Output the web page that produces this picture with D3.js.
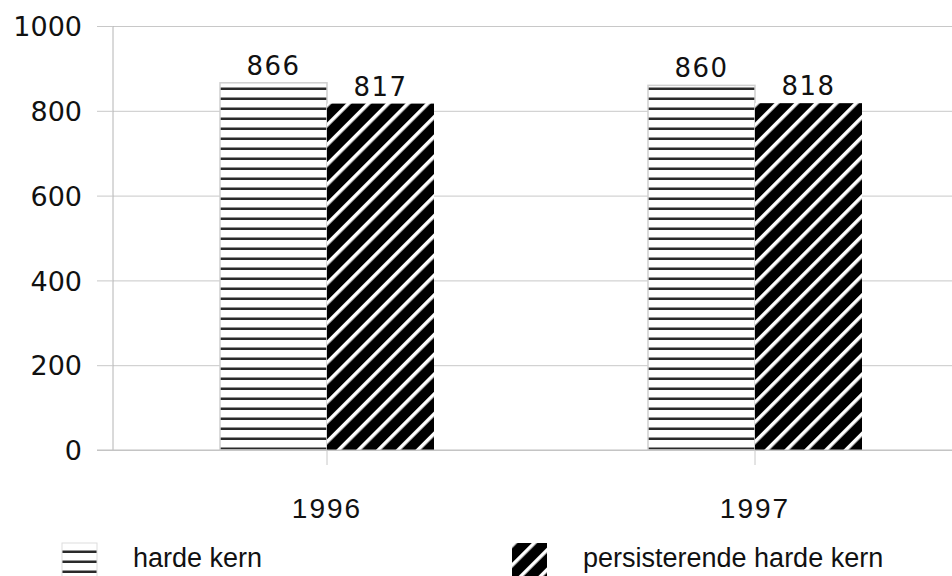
<!DOCTYPE html>
<html>
<head>
<meta charset="utf-8">
<script src="https://cdn.jsdelivr.net/npm/d3@7"></script>
<style>
  body { margin: 0; background: #fff; }
  .tick text { fill: #111; }
</style>
</head>
<body>
<script>
  var years = ["1996", "1997"];
  var series = ["harde kern", "persisterende harde kern"];
  var hardeKern = [866, 860];
  var persisterend = [817, 818];
  var yTicks = [0, 200, 400, 600, 800, 1000];

  var width = 952, height = 576;
  var plotLeft = 113, plotTop = 26, plotBottom = 450, plotRight = 969;

  var svg = d3.select("body").append("svg")
      .attr("width", width)
      .attr("height", height);

  var defs = svg.append("defs");

  // horizontal hatch
  var hp = defs.append("pattern")
      .attr("id", "horiz")
      .attr("patternUnits", "userSpaceOnUse")
      .attr("width", 10).attr("height", 10)
      .attr("y", 0);
  hp.append("rect").attr("width", 10).attr("height", 10).attr("fill", "#fff");
  hp.append("rect").attr("y", 7.5).attr("width", 10).attr("height", 2.5).attr("fill", "#2a2a2a");

  // diagonal hatch
  var dp = defs.append("pattern")
      .attr("id", "diag")
      .attr("patternUnits", "userSpaceOnUse")
      .attr("width", 14).attr("height", 14)
      .attr("patternTransform", "rotate(-45)");
  dp.append("rect").attr("width", 14).attr("height", 14).attr("fill", "#000");
  dp.append("rect").attr("width", 14).attr("height", 3.6).attr("fill", "#fff");

  var fills = ["url(#horiz)", "url(#diag)"];

  var x0 = d3.scaleBand()
      .domain(years)
      .range([plotLeft, plotRight])
      .padding(0);

  var x1 = d3.scaleBand()
      .domain(series)
      .range([0, x0.bandwidth()])
      .paddingInner(0)
      .paddingOuter(1);

  var y = d3.scaleLinear()
      .domain([0, 1000])
      .range([plotBottom, plotTop]);

  // grid lines
  svg.append("g")
      .attr("transform", "translate(" + plotLeft + ",0)")
      .call(d3.axisLeft(y).tickValues(yTicks).tickSize(-(width - plotLeft)).tickFormat(""))
      .call(function(g) {
        g.select(".domain").remove();
        g.selectAll("line").attr("stroke", "#c8c8c8");
      });

  // y axis with tick labels
  svg.append("g")
      .attr("transform", "translate(" + plotLeft + ",0)")
      .call(d3.axisLeft(y).tickValues(yTicks).tickFormat(d3.format("d")).tickSize(16).tickPadding(15))
      .call(function(g) {
        g.select(".domain").attr("stroke", "#b4b4b4").attr("d", "M0," + plotTop + "V" + plotBottom);
        g.selectAll("line").attr("stroke", "#c8c8c8");
        g.selectAll("text")
          .attr("font-family", "DejaVu Sans")
          .attr("font-size", 27)
          .attr("dy", "0.36em");
      });

  var data = years.map(function(yr, i) {
    return { year: yr, values: [hardeKern[i], persisterend[i]] };
  });

  var groups = svg.selectAll(".grp")
      .data(data)
    .enter().append("g")
      .attr("class", "grp")
      .attr("transform", function(d) { return "translate(" + x0(d.year) + ",0)"; });

  groups.selectAll("rect")
      .data(function(d) { return d.values.map(function(v, j) { return { s: series[j], v: v, j: j }; }); })
    .enter().append("rect")
      .attr("x", function(d) { return x1(d.s); })
      .attr("y", function(d) { return y(d.v); })
      .attr("width", x1.bandwidth())
      .attr("height", function(d) { return y(0) - y(d.v); })
      .attr("fill", function(d) { return fills[d.j]; })
      .attr("stroke", function(d) { return d.j === 0 ? "#cfcfcf" : "none"; })
      .attr("stroke-width", 1.5);

  groups.selectAll(".val")
      .data(function(d) { return d.values.map(function(v, j) { return { s: series[j], v: v }; }); })
    .enter().append("text")
      .attr("class", "val")
      .attr("x", function(d) { return x1(d.s) + x1.bandwidth() / 2; })
      .attr("y", function(d) { return y(d.v) - 8; })
      .attr("text-anchor", "middle")
      .attr("font-family", "DejaVu Sans")
      .attr("font-size", 26)
      .attr("letter-spacing", 1.5)
      .attr("fill", "#111")
      .text(function(d) { return d.v; });

  // baseline and x axis
  svg.append("g")
      .attr("transform", "translate(0," + plotBottom + ")")
      .call(d3.axisBottom(x0).tickSize(15).tickPadding(33))
      .call(function(g) {
        g.select(".domain").attr("stroke", "#c0c0c0").attr("d", "M" + (plotLeft - 16) + ",0H" + width);
        g.selectAll("line").attr("stroke", "#c8c8c8");
        g.selectAll("text")
          .attr("font-family", "Liberation Sans, Arial, sans-serif")
          .attr("font-size", 28)
          .attr("letter-spacing", 2)
          .attr("dy", "0.71em");
      });

  // legend
  var legX = [62, 512];
  var leg = svg.selectAll(".leg")
      .data(series)
    .enter().append("g")
      .attr("class", "leg")
      .attr("transform", function(d, i) { return "translate(" + legX[i] + ",543)"; });

  leg.append("rect")
      .attr("width", 35)
      .attr("height", 36)
      .attr("fill", function(d, i) { return fills[i]; })
      .attr("stroke", function(d, i) { return i === 0 ? "#ddd" : "none"; });

  leg.append("text")
      .attr("x", 71)
      .attr("y", 24)
      .attr("font-family", "Liberation Sans, Arial, sans-serif")
      .attr("font-size", 27)
      .attr("fill", "#111")
      .text(function(d) { return d; });
</script>
</body>
</html>
